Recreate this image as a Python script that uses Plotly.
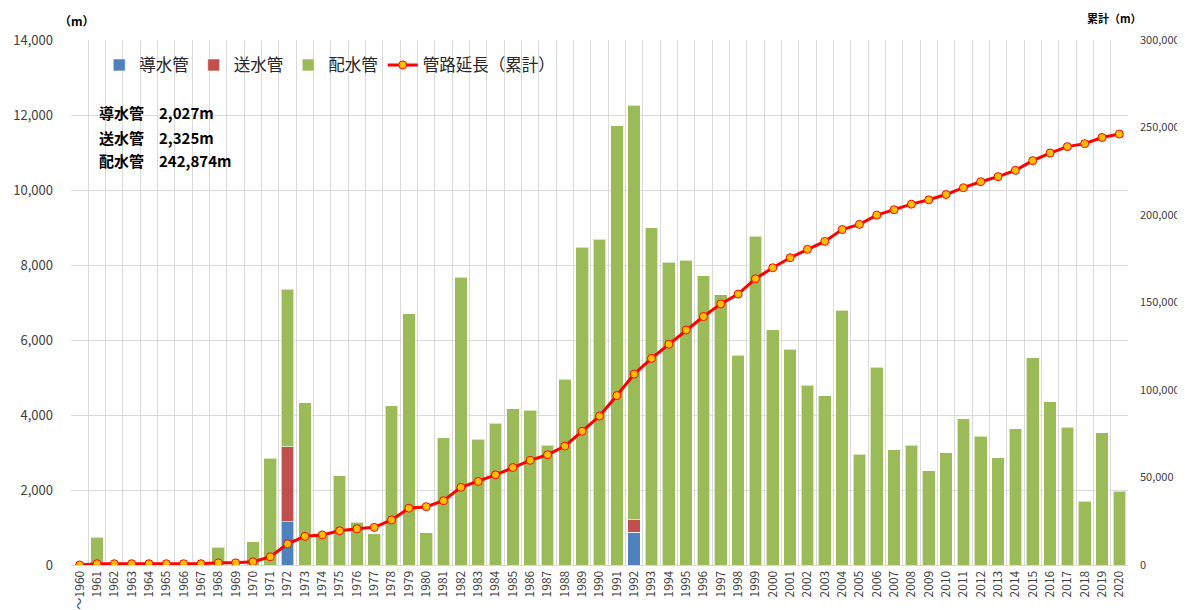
import plotly.graph_objects as go
import numpy as np

years = ["～1960"] + [str(y) for y in range(1961, 2021)]

# 導水管 (conveyance), 送水管 (transmission), 配水管 (distribution) per year (m)
dousui = [0]*61
sousui = [0]*61
haisui = [0, 740, 0, 0, 0, 0, 0, 0, 480, 0, 620, 2853, 4200, 4330, 790, 2382, 1138, 827, 4250, 6700,
          862, 3387, 7670, 3351, 3778, 4170, 4130, 3191, 4950, 8480, 8693, 11707, 11060, 8987, 8070, 8133,
          7707, 7208, 5600, 8773, 6270, 5750, 4800, 4510, 6800, 2951, 5270, 3075, 3200, 2507, 2987, 3900,
          3440, 2862, 3627, 5530, 4350, 3671, 1698, 3529, 1973]
dousui[12] = 1150
dousui[32] = 877
sousui[12] = 2000
sousui[32] = 325

total = np.array(dousui) + np.array(sousui) + np.array(haisui)
cumulative = np.cumsum(total)

font_jp = "Noto Sans CJK JP"

fig = go.Figure()
bar_line = dict(color="rgba(255,255,255,0.6)", width=1)
fig.add_trace(go.Bar(x=years, y=dousui, name="導水管", marker=dict(color="#4F81BD", line=bar_line)))
fig.add_trace(go.Bar(x=years, y=sousui, name="送水管", marker=dict(color="#C0504D", line=bar_line)))
fig.add_trace(go.Bar(x=years, y=haisui, name="配水管", marker=dict(color="#9BBB59", line=bar_line)))
fig.add_trace(go.Scatter(x=years, y=cumulative, name="管路延長（累計）", yaxis="y2", mode="lines+markers",
                         line=dict(color="#FF0000", width=3),
                         marker=dict(size=8, color="#FFC000", line=dict(color="#FF0000", width=1))))

fig.update_layout(
    width=1177, height=602,
    barmode="stack", bargap=0.27,
    plot_bgcolor="white", paper_bgcolor="white",
    margin=dict(l=63, r=57, t=32, b=45, autoexpand=False),
    font=dict(family=font_jp, size=13, color="#404040"),
    xaxis=dict(type="category", range=[-0.5, 60.5], autorange=False, tickangle=-90,
               tickson="boundaries", showgrid=True,
               gridcolor="#D9D9D9", gridwidth=1, showline=True, linecolor="#D9D9D9", mirror=False,
               ticks="", tickfont=dict(size=12, color="#404040"), automargin=False),
    yaxis=dict(range=[0, 14000], dtick=2000, tickformat=",", showgrid=True, gridcolor="#D9D9D9",
               zeroline=False, ticks="", tickfont=dict(size=13, color="#404040"), automargin=False,
               ticklabelstandoff=17),
    yaxis2=dict(range=[0, 300000], dtick=50000, tickformat=",", overlaying="y", side="right",
                showgrid=False, zeroline=False, ticks="", tickfont=dict(size=11, color="#404040"),
                automargin=False, ticklabelstandoff=11),
    legend=dict(orientation="h", x=0.0267, y=0.952, xanchor="left", yanchor="middle",
                font=dict(size=16.5, color="#262626", family=font_jp), bgcolor="rgba(0,0,0,0)",
                traceorder="normal"),
    showlegend=True,
)

ann_y = [0.861, 0.815, 0.771]
labels = ["導水管　2,027m", "送水管　2,325m", "配水管　242,874m"]
for yy, t in zip(ann_y, labels):
    fig.add_annotation(xref="paper", yref="paper", x=0.025, y=yy, xanchor="left", yanchor="middle",
                       text="<b>" + t + "</b>", showarrow=False,
                       font=dict(size=15, color="black", family=font_jp))

fig.add_annotation(xref="paper", yref="paper", x=-0.013, y=1.038, xanchor="left", yanchor="middle",
                   text="<b>（m）</b>", showarrow=False, font=dict(size=12, color="black", family=font_jp))
fig.add_annotation(xref="paper", yref="paper", x=0.9877, y=1.042, xanchor="center", yanchor="middle",
                   text="<b>累計（m）</b>", showarrow=False, font=dict(size=11, color="black", family=font_jp))

fig.write_html("out.html")
